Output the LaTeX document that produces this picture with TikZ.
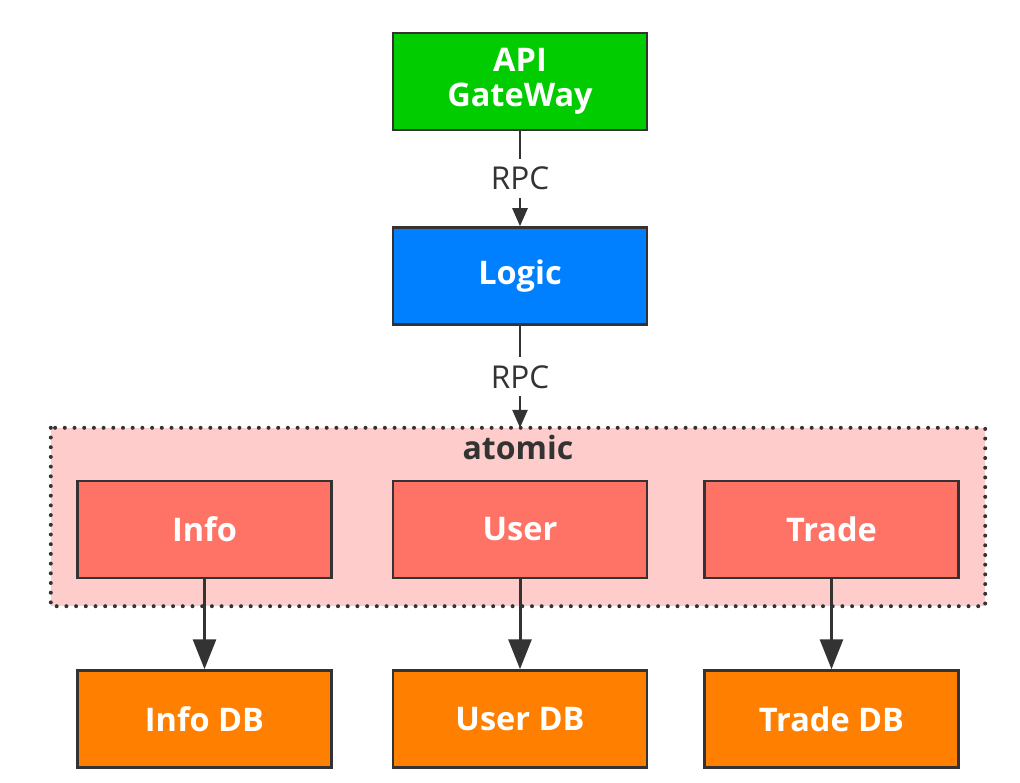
\documentclass[tikz,border=0pt]{standalone}
\usepackage{fontspec}
\setmainfont{Open Sans}
\usetikzlibrary{positioning,arrows.meta}

\definecolor{gwgreen}{HTML}{00CC00}
\definecolor{logicblue}{HTML}{007FFF}
\definecolor{atomred}{HTML}{FF7366}
\definecolor{atompink}{HTML}{FFCCCC}
\definecolor{dborange}{HTML}{FF8000}
\definecolor{edgegray}{HTML}{333333}

\begin{document}
\begin{tikzpicture}[x=1pt,y=-1pt,node distance=57pt,
         main node/.style={rectangle,draw=edgegray,line width=2.5pt,minimum width=254pt,minimum height=97pt,
           inner sep=0pt,text=white,align=center,font=\bfseries\fontsize{32.5}{35}\selectfont},
         group box/.style={rectangle,fill=atompink,minimum width=934pt,minimum height=178pt,inner sep=0pt},
         group line/.style={draw=edgegray,line width=4pt,line cap=round,dash pattern=on 0pt off 9.7pt},
         group label/.style={anchor=base,inner sep=0pt,text=edgegray,font=\bfseries\fontsize{32}{34}\selectfont},
         rpc label/.style={fill=white,inner sep=8pt,text=edgegray,font=\fontsize{31.5}{34}\selectfont},
         rpc arrow/.style={-{Triangle[length=18pt,width=15pt]},draw=edgegray,fill=edgegray,line width=2.5pt},
         db arrow/.style={-{Triangle[length=30pt,width=23pt]},draw=edgegray,fill=edgegray,line width=3pt}]

     \useasboundingbox (0,0) rectangle (1020,783);

     % atomic group behind the services
     \node[group box] (atomic) at (518,517) {};
     \draw[group line] (atomic.north west) rectangle (atomic.south east);
     \node[group label] (atomtitle) at ([yshift=-32pt]atomic.north) {atomic};

     \node[main node,fill=gwgreen] (api) at (520,81.5) {API\\GateWay};
     \node[main node,fill=logicblue] (logic) [below=95pt of api] {Logic};

     \node[main node,fill=atomred] (user) [below=154pt of logic] {User};
     \node[main node,fill=atomred] (info) [left=59pt of user] {Info};
     \node[main node,fill=atomred] (trade) [right=55pt of user] {Trade};

     \node[main node,fill=dborange] (infodb) [below=90pt of info] {Info DB};
     \node[main node,fill=dborange] (userdb) [below=90pt of user] {User DB};
     \node[main node,fill=dborange] (tradedb) [below=90pt of trade] {Trade DB};

     \draw[rpc arrow] (api) -- node[rpc label] {RPC} (logic);
     \draw[rpc arrow] (logic.south) -- node[rpc label] {RPC} (logic.south |- atomic.north);

     \draw[db arrow] (info) -- (infodb);
     \draw[db arrow] (user) -- (userdb);
     \draw[db arrow] (trade) -- (tradedb);
 \end{tikzpicture}
\end{document}
